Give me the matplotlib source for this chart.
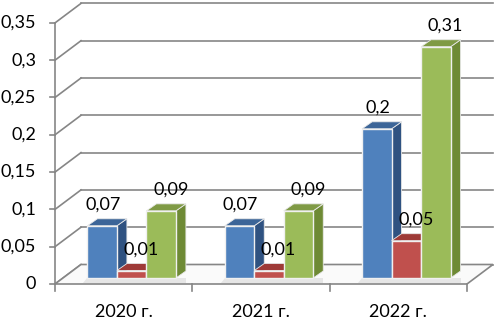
import matplotlib.pyplot as plt
from matplotlib.patches import Polygon

plt.rcParams['font.family'] = ['Lato', 'DejaVu Sans']

categories = ['2020 г.', '2021 г.', '2022 г.']
series_a = [0.07, 0.07, 0.2]
series_b = [0.01, 0.01, 0.05]
series_c = [0.09, 0.09, 0.31]
y_ticks = [0, 0.05, 0.1, 0.15, 0.2, 0.25, 0.3, 0.35]

# colours: front, side, top
palette = [
    ('#4F81BD', '#2F5281', '#3C6598'),
    ('#C0504D', '#8A302E', '#9E3A37'),
    ('#9BBB59', '#6E8A35', '#7F9A45'),
]
label_shift = [0.005, 0.07, 0.07]

fig = plt.figure(figsize=(4.99, 3.19), dpi=100)
ax = fig.add_axes([0, 0, 1, 1])
ax.set_axis_off()

# pixel -> data scale: 137.33 px per category, 746 px per unit
px_x = 137.33
px_y = 746.0
ax.set_xlim(-55 / px_x, (499 - 55) / px_x)
ax.set_ylim(-35 / px_y, (319 - 35) / px_y)

n = len(categories)
wall_dx, wall_dy = 26 / px_x, 19.5 / px_y
bar_ox, bar_oy = 8 / px_x, 6 / px_y
depth_dx, depth_dy = 10 / px_x, 7 / px_y
bar_w = 29.5 / px_x
grid_c = '#868686'

# back wall gridlines and left wall diagonals
for t in y_ticks:
    ax.plot([wall_dx, n + wall_dx], [t + wall_dy, t + wall_dy], color=grid_c, lw=1.2, zorder=1)
    ax.plot([0, wall_dx], [t, t + wall_dy], color=grid_c, lw=1.2, zorder=1)
    ax.plot([-5 / px_x, 0], [t, t], color=grid_c, lw=1.2, zorder=1)
    ax.text(-19 / px_x, t, f'{t:g}'.replace('.', ','), ha='right', va='center',
            fontsize=13, color='#000000')

# floor
ax.add_patch(Polygon([(0, 0), (n, 0), (n + wall_dx, wall_dy), (wall_dx, wall_dy)],
                     closed=True, facecolor='#FAFAFA', edgecolor=grid_c, lw=1.2, zorder=2))
ax.plot([0, 0], [0, y_ticks[-1]], color=grid_c, lw=1.2, zorder=2)
for i in range(n + 1):
    ax.plot([i, i], [0, -7 / px_y], color=grid_c, lw=1.2, zorder=2)
for i, c in enumerate(categories):
    ax.text(i + 0.5, -28 / px_y, c, ha='center', va='center', fontsize=13)

# bars
all_series = [series_a, series_b, series_c]
z = 3
for i in range(n):
    for s, vals in enumerate(all_series):
        v = vals[i]
        x0 = i + 0.5 - 1.5 * bar_w + s * bar_w + bar_ox
        y0 = bar_oy
        front, side, top = palette[s]
        # soft shadow on the floor
        ax.add_patch(Polygon([(x0 - 4 / px_x, y0 - 5 / px_y), (x0 + bar_w + depth_dx, y0 - 5 / px_y),
                              (x0 + bar_w + depth_dx, y0), (x0, y0)],
                             closed=True, facecolor='#E6E6E6', edgecolor='none', zorder=2.5))
        ax.add_patch(Polygon([(x0 + bar_w, y0), (x0 + bar_w + depth_dx, y0 + depth_dy),
                              (x0 + bar_w + depth_dx, y0 + v + depth_dy), (x0 + bar_w, y0 + v)],
                             closed=True, facecolor=side, edgecolor='#E8E8E8', lw=0.6, zorder=z))
        ax.add_patch(Polygon([(x0, y0 + v), (x0 + bar_w, y0 + v),
                              (x0 + bar_w + depth_dx, y0 + v + depth_dy), (x0 + depth_dx, y0 + v + depth_dy)],
                             closed=True, facecolor=top, edgecolor='#E8E8E8', lw=0.6, zorder=z))
        ax.add_patch(Polygon([(x0, y0), (x0 + bar_w, y0), (x0 + bar_w, y0 + v), (x0, y0 + v)],
                             closed=True, facecolor=front, edgecolor='#F0F0F0', lw=1.0, zorder=z))
        z += 1
        ax.text(x0 + bar_w / 2 + label_shift[s], y0 + v + 21 / px_y, f'{v:g}'.replace('.', ','),
                ha='center', va='center', fontsize=13, zorder=50)

fig.savefig('out.png', dpi=100)
